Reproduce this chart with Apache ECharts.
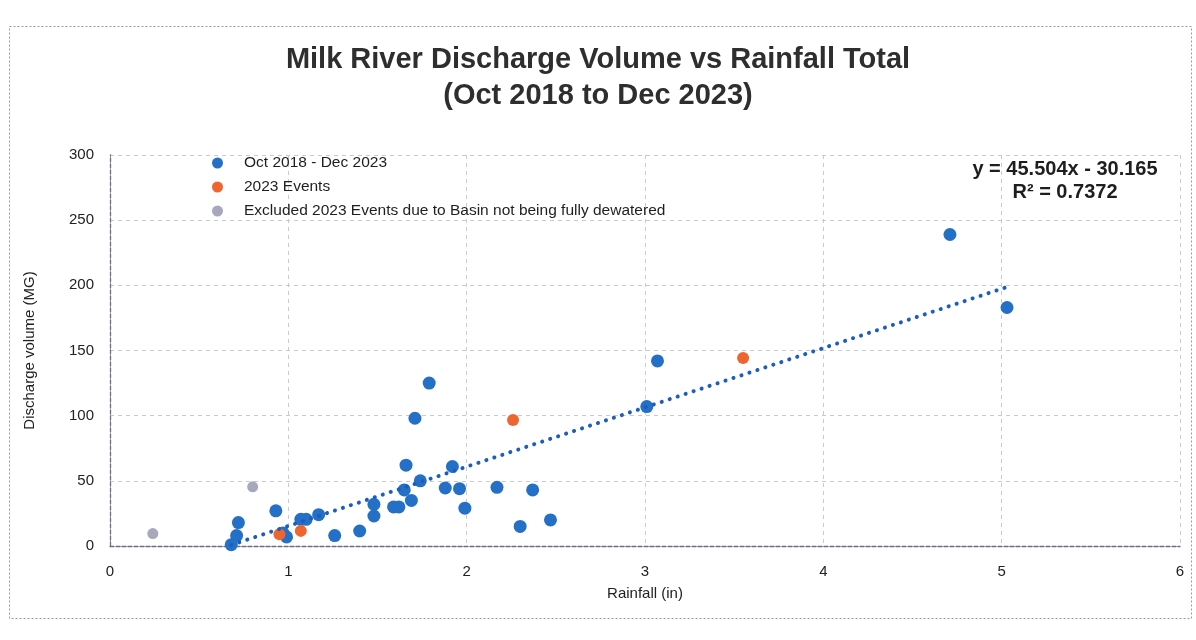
<!DOCTYPE html>
<html>
<head>
<meta charset="utf-8">
<script src="https://cdn.jsdelivr.net/npm/echarts@6/dist/echarts.min.js"></script>
<style>
  html, body { margin: 0; padding: 0; background: #ffffff; }
  #chart { width: 1196px; height: 640px; }
</style>
</head>
<body>
<div id="chart"></div>
<script>
// Rainfall (in) / discharge volume (MG) per event
const allEventsRain = [0.68, 0.71, 0.72, 0.93, 0.97, 0.99, 1.07, 1.10, 1.17, 1.26, 1.40, 1.48, 1.48, 1.59, 1.62,
  1.65, 1.69, 1.66, 1.74, 1.71, 1.79, 1.92, 1.88, 1.96, 1.99, 2.17, 2.37, 2.30, 2.47, 3.01, 3.07, 4.71, 5.03];
const allEventsVolume = [1, 8, 18, 27, 10, 7, 20.5, 20.5, 24, 8, 11.5, 23, 32, 30, 30,
  43, 35, 62, 50, 98, 125, 61, 44.5, 44, 29, 45, 43, 15, 20, 107, 142, 239, 183];

const events2023Rain = [0.95, 1.07, 2.26, 3.55];
const events2023Volume = [9, 11.6, 96.7, 144.2];

const excludedRain = [0.24, 0.80];
const excludedVolume = [9.5, 45.4];

const seriesNames = ['Oct 2018 - Dec 2023', '2023 Events', 'Excluded 2023 Events due to Basin not being fully dewatered'];

// Linear trendline fitted to the Oct 2018 - Dec 2023 events
const trendSlope = 45.504;
const trendIntercept = -30.165;
const trendR2 = 0.7372;

const xTicks = [0, 1, 2, 3, 4, 5, 6];
const yTicks = [0, 50, 100, 150, 200, 250, 300];

const zip = (xs, ys) => xs.map((x, i) => [x, ys[i]]);
const xMin = Math.min(...allEventsRain), xMax = Math.max(...allEventsRain);
const trendData = [xMin, xMax].map(x => [x, trendSlope * x + trendIntercept]);

const font = '"Liberation Sans", Arial, sans-serif';
const chart = echarts.init(document.getElementById('chart'), null, { renderer: 'canvas' });

const equationText = 'y = ' + trendSlope.toFixed(3) + 'x - ' + Math.abs(trendIntercept).toFixed(3);
const r2Text = 'R² = ' + trendR2.toFixed(4);

chart.setOption({
  backgroundColor: '#ffffff',
  animation: false,
  title: {
    text: 'Milk River Discharge Volume vs Rainfall Total\n(Oct 2018 to Dec 2023)',
    left: 'center',
    top: 37,
    textStyle: { fontFamily: font, fontWeight: 'bold', fontSize: 29, color: '#2e2e2e', lineHeight: 36 }
  },
  legend: {
    orient: 'vertical',
    left: 207,
    top: 150,
    itemGap: 8,
    itemWidth: 11,
    itemHeight: 11,
    icon: 'circle',
    data: seriesNames,
    textStyle: { fontFamily: font, fontSize: 15.5, color: '#1e1e1e', padding: [0, 0, 0, 16] }
  },
  grid: { left: 110, right: 16, top: 155, bottom: 94, containLabel: false },
  xAxis: {
    type: 'value',
    min: xTicks[0], max: xTicks[xTicks.length - 1], interval: 1,
    name: 'Rainfall (in)',
    nameLocation: 'middle',
    nameGap: 40,
    nameTextStyle: { fontFamily: font, fontSize: 15, color: '#222' },
    axisLine: { show: true, lineStyle: { color: '#6a6f86', type: [4, 2], width: 1.3 } },
    axisTick: { show: false },
    axisLabel: { fontFamily: font, fontSize: 15, color: '#222', margin: 18 },
    splitLine: { show: true, lineStyle: { color: '#c9c9d2', type: [4, 4], width: 1 } }
  },
  yAxis: {
    type: 'value',
    min: yTicks[0], max: yTicks[yTicks.length - 1], interval: 50,
    name: 'Discharge volume (MG)',
    nameLocation: 'middle',
    nameGap: 73,
    nameTextStyle: { fontFamily: font, fontSize: 15, color: '#222' },
    axisLine: { show: true, lineStyle: { color: '#6a6f86', type: [4, 2], width: 1.3 } },
    axisTick: { show: false },
    axisLabel: { fontFamily: font, fontSize: 15, color: '#222', margin: 16 },
    splitLine: { show: true, lineStyle: { color: '#c9c9d2', type: [4, 4], width: 1 } }
  },
  series: [
    {
      name: seriesNames[0],
      type: 'scatter',
      data: zip(allEventsRain, allEventsVolume),
      symbolSize: 13,
      itemStyle: { color: '#2470c6', opacity: 1 },
      z: 3
    },
    {
      name: seriesNames[1],
      type: 'scatter',
      data: zip(events2023Rain, events2023Volume),
      symbolSize: 12,
      itemStyle: { color: '#ee6530', opacity: 1 },
      z: 4
    },
    {
      name: seriesNames[2],
      type: 'scatter',
      data: zip(excludedRain, excludedVolume),
      symbolSize: 11,
      itemStyle: { color: '#a8a8bc', opacity: 1 },
      z: 3
    },
    {
      name: 'Linear trendline',
      type: 'line',
      data: trendData,
      showSymbol: false,
      symbol: 'none',
      silent: true,
      lineStyle: { color: '#1a5fbf', width: 4, type: [0.1, 8.3], cap: 'round' },
      z: 5
    }
  ],
  graphic: [
    {
      type: 'rect',
      left: 7, top: 24,
      shape: { width: 1182, height: 592 },
      style: { fill: 'none', stroke: '#9a9a9a', lineWidth: 1, lineDash: [2, 2] },
      silent: true
    },
    {
      type: 'text',
      x: 1065, y: 159,
      style: { text: equationText, font: 'bold 20px ' + font, fill: '#1e1e1e', align: 'center', verticalAlign: 'top' }
    },
    {
      type: 'text',
      x: 1065, y: 182,
      style: { text: r2Text, font: 'bold 20px ' + font, fill: '#1e1e1e', align: 'center', verticalAlign: 'top' }
    }
  ]
});
</script>
</body>
</html>
